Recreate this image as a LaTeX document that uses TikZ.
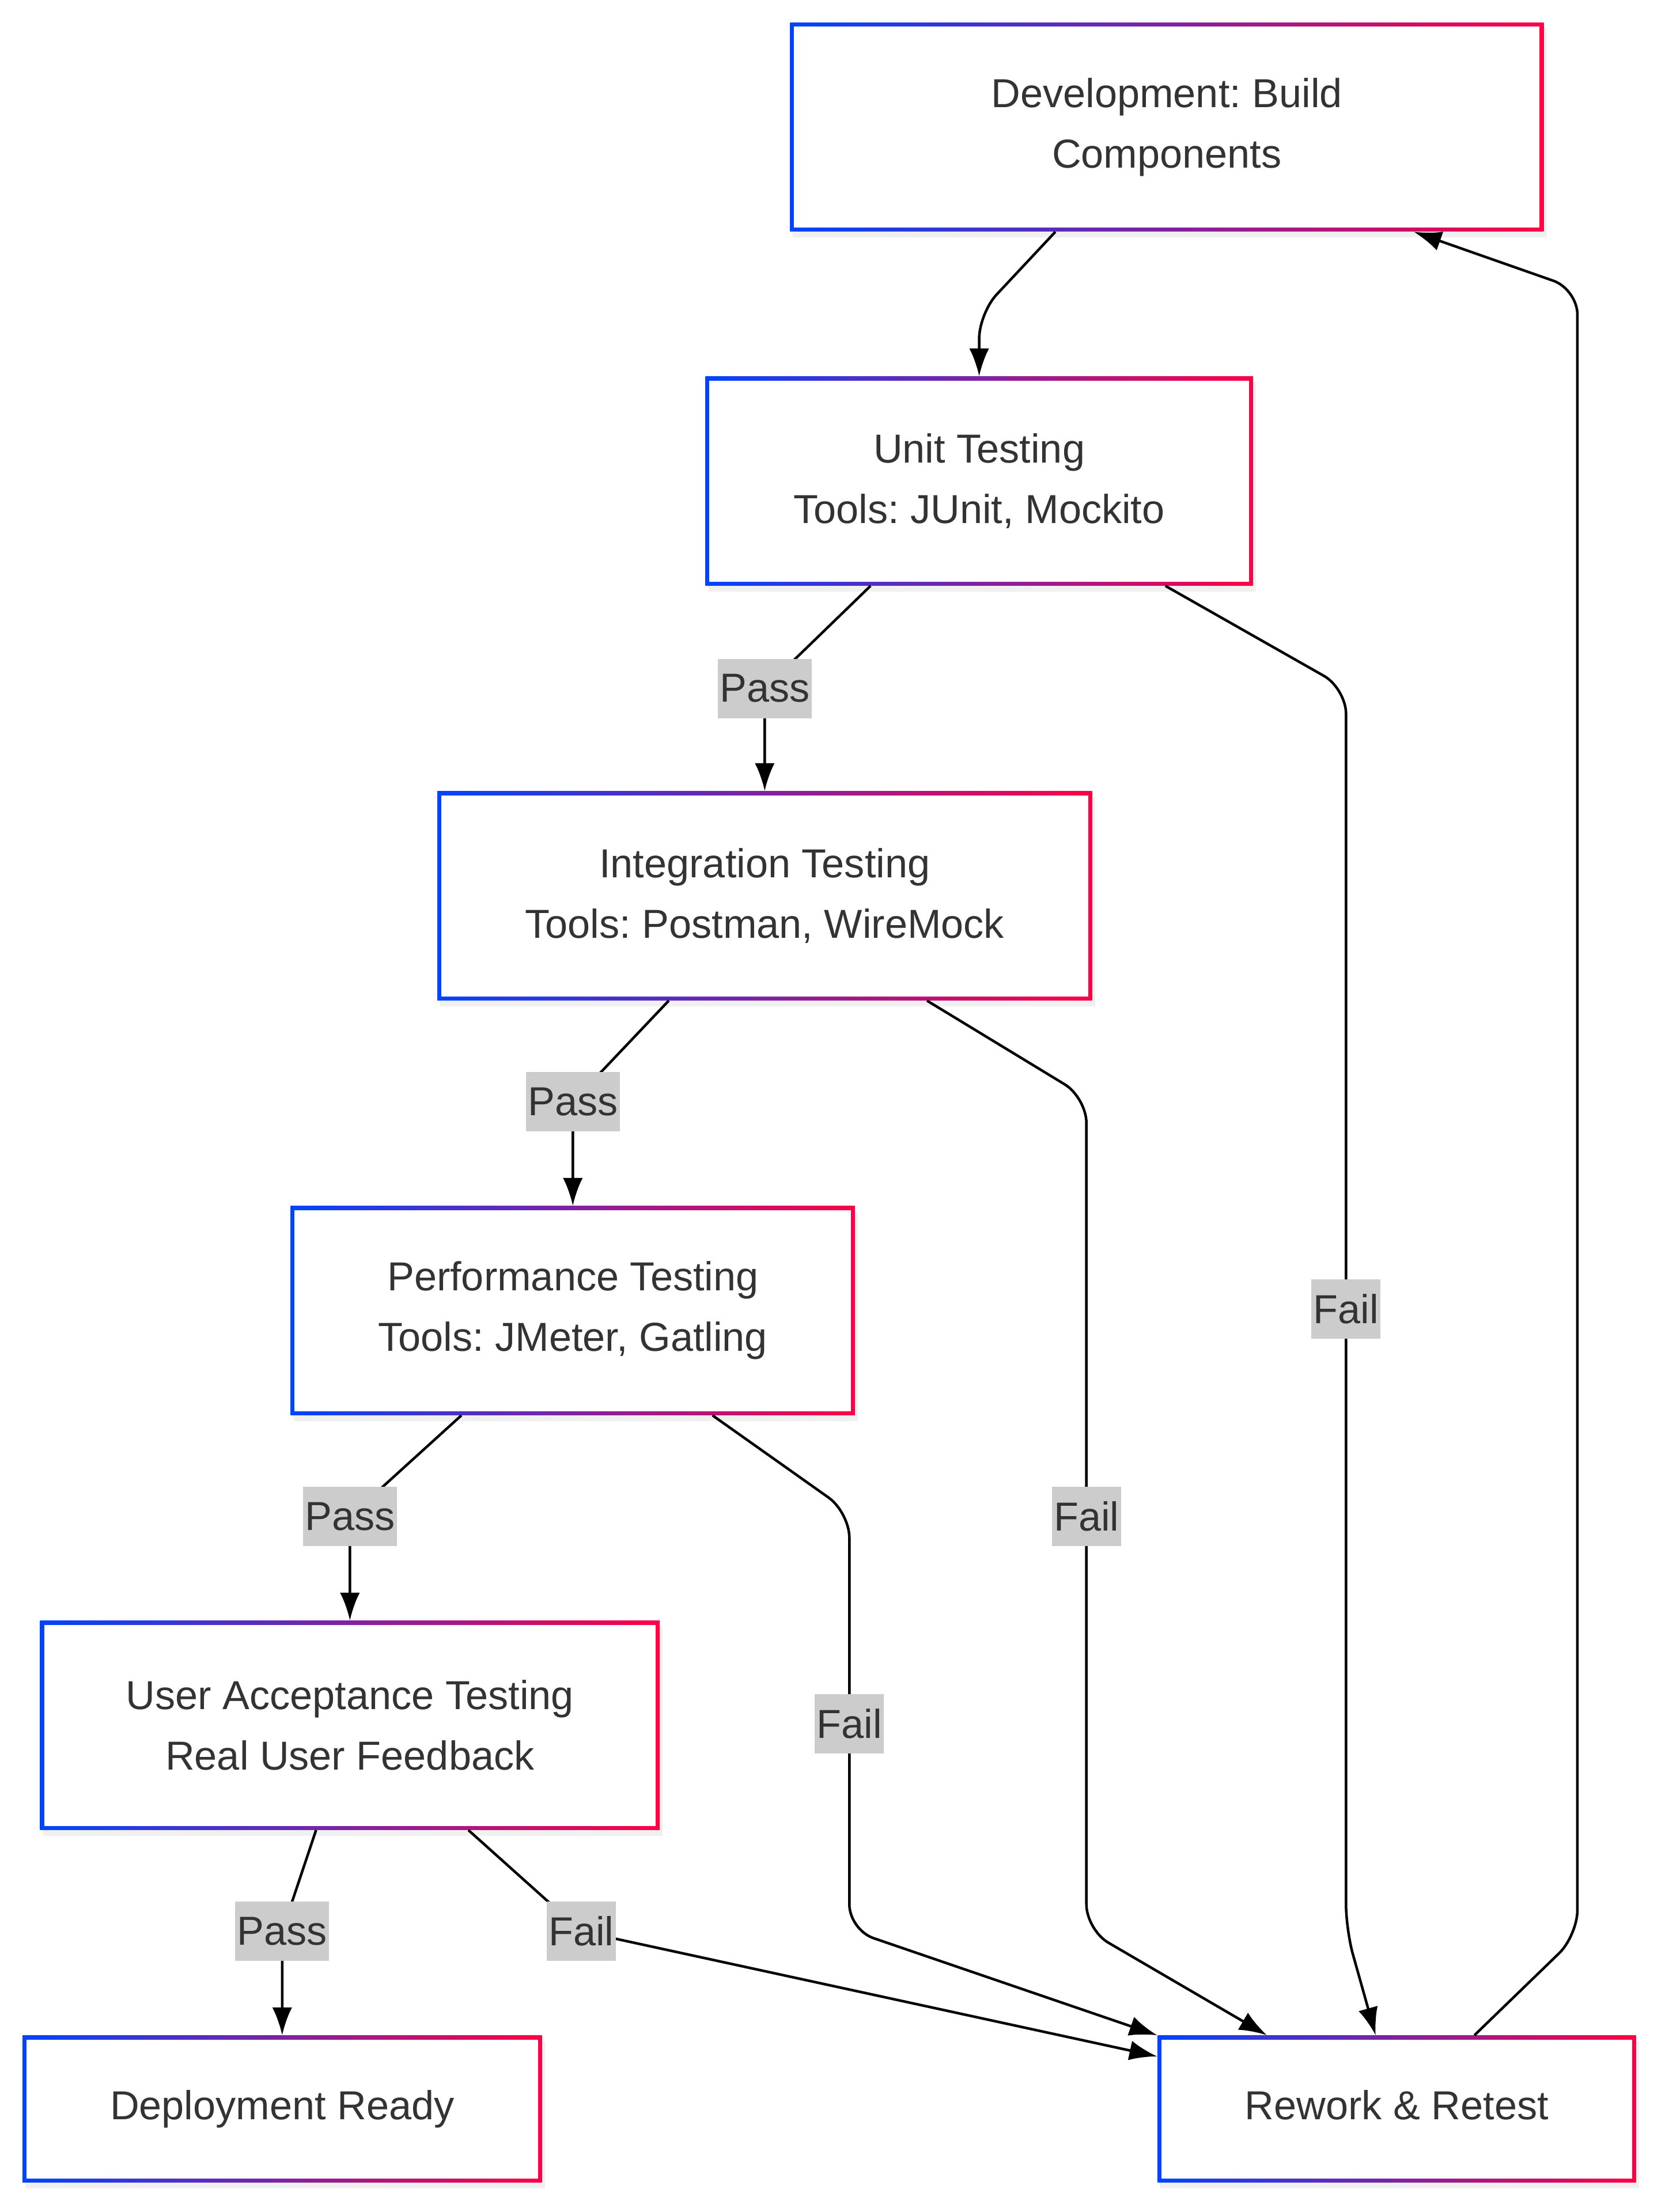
\documentclass[tikz,border=0pt]{standalone}
\usepackage{fontspec}
\setmainfont{Liberation Sans}
\usepackage{tikz}
\usetikzlibrary{positioning, calc, arrows.meta, shadows}

\definecolor{gradl}{HTML}{0044FF}
\definecolor{gradr}{HTML}{FF0044}
\definecolor{txtgray}{HTML}{333333}

\begin{document}
\frenchspacing
\begin{tikzpicture}[x=0.025cm, y=-0.025cm,
    stagebox/.style={rectangle, fill=white, inner sep=0pt, align=center, text=txtgray,
      font=\fontsize{20.4}{30.5}\selectfont, minimum height=3.7cm,
      drop shadow={shadow xshift=1.5pt, shadow yshift=-3pt, opacity=0.12},
      path picture={
        \shade[left color=gradl, right color=gradr] (path picture bounding box.south west) rectangle (path picture bounding box.north east);
        \fill[white] ([shift={(2pt,2pt)}]path picture bounding box.south west) rectangle ([shift={(-2pt,-2pt)}]path picture bounding box.north east);
      }},
    endbox/.style={stagebox, minimum height=2.6cm, text height=1.3em, text depth=0.22em},
    edgelbl/.style={fill=black!20, text=txtgray, inner xsep=1pt, inner ysep=0pt, sharp corners,
      minimum height=1.05cm, font=\fontsize{20.4}{30.5}\selectfont},
    flow/.style={draw=black, line width=1.3pt, rounded corners=0.45cm, -{Latex[length=14pt,width=10pt]}}]
    \useasboundingbox (0,0) rectangle (1180,1568);

    % Stages
    \node[stagebox, minimum width=13.35cm] (dev) at (827,90) {Development: Build\\Components};
    \node[stagebox, minimum width=9.7cm] (unit) at (694,341) {Unit Testing\\Tools: JUnit, Mockito};
    \node[stagebox, minimum width=11.6cm] (integ) at (542,635) {Integration Testing\\Tools: Postman, WireMock};
    \node[stagebox, minimum width=10cm] (perf) at (406,929) {Performance Testing\\Tools: JMeter, Gatling};
    \node[stagebox, minimum width=10.975cm] (uat) at (248,1223) {User Acceptance Testing\\Real User Feedback};
    \node[endbox, minimum width=9.2cm] (deploy) at (200,1495) {Deployment Ready};
    \node[endbox, minimum width=8.475cm] (rework) at (990,1495) {Rework \& Retest};

    % Build goes to unit tests
    \draw[flow] ($(dev.south)+(-79,0)$) -- (694,222) -- (unit.north);

    % Pass edges down the chain
    \draw[flow] ($(unit.south)+(-77,0)$) -- (542,488) node[edgelbl] (pass1) {Pass} -- (integ.north);
    \draw[flow] ($(integ.south)+(-68,0)$) -- (406,781) node[edgelbl] (pass2) {Pass} -- (perf.north);
    \draw[flow] ($(perf.south)+(-79,0)$) -- (248,1075) node[edgelbl] (pass3) {Pass} -- (uat.north);
    \draw[flow] ($(uat.south)+(-24,0)$) -- (200,1369) node[edgelbl] (pass4) {Pass} -- (deploy.north);

    % Fail edges into rework
    \draw[flow] ($(unit.south)+(132,0)$) -- (954,488) -- (954,928) node[edgelbl] (fail1) {Fail} -- (954,1368) -- ($(rework.north)+(-15,0)$);
    \draw[flow] ($(integ.south)+(115,0)$) -- (770,778) -- (770,1075) node[edgelbl] (fail2) {Fail} -- (770,1368) -- ($(rework.north)+(-92,0)$);
    \draw[flow] ($(perf.south)+(99,0)$) -- (602,1072) -- (602,1222) node[edgelbl] (fail3) {Fail} -- (602,1368) -- (rework.north west);
    \draw[flow] ($(uat.south)+(84,0)$) -- (412,1369) node[edgelbl] (fail4) {Fail} -- ($(rework.north west)+(0,15)$);

    % Back to development
    \draw[flow] ($(rework.north)+(55,0)$) -- (1118,1372) -- (1118,205) -- ($(dev.south)+(175,0)$);
\end{tikzpicture}
\end{document}
